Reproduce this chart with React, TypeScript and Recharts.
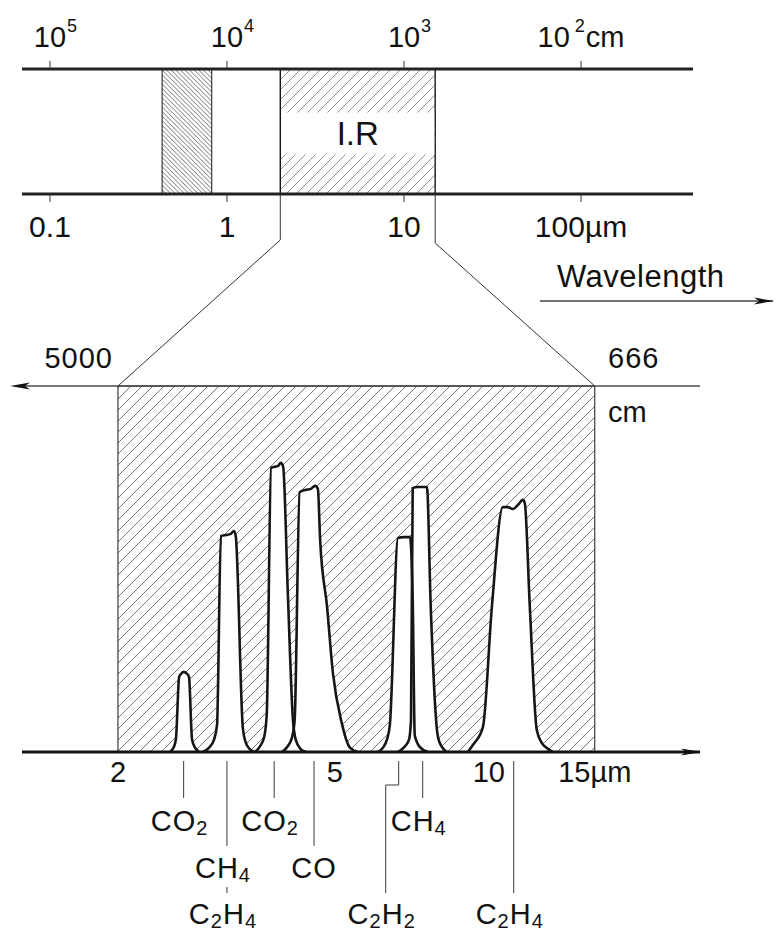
import React from 'react';
import { ComposedChart, XAxis, YAxis, Area, Line, Scatter, ReferenceArea } from 'recharts';

const FONT = '"Liberation Sans", Arial, Helvetica, sans-serif';
const INK = '#161616';

// ---------------- data ----------------
// top band: wavelength (µm) below, wavenumber (cm-1) above
const BAND_LAM_TICKS = [0.1, 1, 10, 100];
const BAND_LAM_LABELS = ['0.1', '1', '10', '100µm'];
const BAND_WN_TICKS = [100000, 10000, 1000, 100];
const BAND_WN_UNIT = 'cm';
const VISIBLE_RANGE = [0.43, 0.82];
const IR_RANGE = [2, 15];
const IR_LABEL = 'I.R';
const AXIS_TITLE = 'Wavelength';

// lower spectrum
const SPEC_LAM_TICKS = [2, 5, 10, 15];
const SPEC_LAM_LABELS = ['2', '5', '10', '15µm'];
const SPEC_WN_TICKS = [5000, 666];
const SPEC_WN_UNIT = 'cm';

// absorption bands: [wavelength µm, relative absorbance]
const PEAK_CO2_27 = [[2.49, 0], [2.53, 0.012], [2.555, 0.035], [2.59, 0.205], [2.61, 0.213], [2.64, 0.219], [2.68, 0.213], [2.70, 0.205], [2.735, 0.035], [2.77, 0.012], [2.82, 0]];
const PEAK_CH4_33 = [[2.86, 0], [2.94, 0.012], [3.0, 0.033], [3.04, 0.074], [3.09, 0.59], [3.16, 0.593], [3.22, 0.596], [3.265, 0.604], [3.29, 0.59], [3.39, 0.066], [3.43, 0.027], [3.49, 0.008], [3.57, 0]];
const PEAK_CO2_43 = [[3.57, 0], [3.64, 0.014], [3.71, 0.041], [3.75, 0.101], [3.82, 0.776], [3.87, 0.779], [3.93, 0.781], [3.98, 0.79], [4.02, 0.779], [4.1, 0.434], [4.19, 0.087], [4.24, 0.033], [4.33, 0.008], [4.43, 0]];
const PEAK_CO_46 = [[4.0, 0], [4.08, 0.012], [4.17, 0.038], [4.22, 0.087], [4.31, 0.71], [4.41, 0.716], [4.52, 0.719], [4.6, 0.727], [4.655, 0.719], [4.7, 0.579], [4.84, 0.396], [4.96, 0.216], [5.15, 0.079], [5.33, 0.012], [5.51, 0]];
const PEAK_C2H2 = [[6.0, 0], [6.13, 0.012], [6.23, 0.033], [6.31, 0.074], [6.53, 0.585], [6.69, 0.587], [6.87, 0.587], [6.95, 0.415], [7.01, 0.046], [7.16, 0.014], [7.41, 0]];
const PEAK_CH4_77 = [[6.53, 0], [6.69, 0.012], [6.84, 0.033], [6.9, 0.087], [6.95, 0.721], [7.1, 0.724], [7.25, 0.724], [7.38, 0.724], [7.5, 0.396], [7.7, 0.06], [7.79, 0.025], [8.03, 0]];
const PEAK_C2H4_105 = [[8.77, 0], [8.96, 0.019], [9.35, 0.068], [9.71, 0.396], [10.17, 0.669], [10.39, 0.669], [10.61, 0.664], [10.84, 0.675], [11.07, 0.689], [11.16, 0.68], [11.4, 0.396], [11.74, 0.06], [11.99, 0.025], [12.25, 0.011], [12.56, 0]];

// molecule annotations (row 1..3 below the axis)
const MOLECULES = [
  { name: 'CO_2', lam: 2.64, row: 1 },
  { name: 'CH_4', lam: 3.17, row: 2 },
  { name: 'C_2H_4', lam: 3.17, row: 3, shared: true },
  { name: 'CO_2', lam: 3.87, row: 1 },
  { name: 'CO', lam: 4.58, row: 2 },
  { name: 'C_2H_2', lam: 6.55, labelLam: 6.2, row: 3 },
  { name: 'CH_4', lam: 7.25, row: 1 },
  { name: 'C_2H_4', lam: 10.65, row: 3 },
];

// ---------------- layout ----------------
const W = 776;
const H = 932;
const BAND = { left: 22, right: 693, top: 69, bottom: 194 };
const SPEC = { left: 22, right: 700, top: 386, bottom: 752 };
const BAND_LAM_DOMAIN: [number, number] = [0.0695, 429];
const BAND_WN_DOMAIN: [number, number] = [1e4 / BAND_LAM_DOMAIN[1], 1e4 / BAND_LAM_DOMAIN[0]];
const SPEC_LAM_DOMAIN: [number, number] = [1.3333, 23.4];
const SPEC_WN_DOMAIN: [number, number] = [1e4 / SPEC_LAM_DOMAIN[1], 1e4 / SPEC_LAM_DOMAIN[0]];
const BAND_H = 330;
const LAM_LABEL_NUDGE: Record<string, number> = { '10': -10 };

const logPos = (v: number, dom: [number, number], x0: number, x1: number) =>
  x0 + ((Math.log10(v) - Math.log10(dom[0])) / (Math.log10(dom[1]) - Math.log10(dom[0]))) * (x1 - x0);
const bandX = (lam: number) => logPos(lam, BAND_LAM_DOMAIN, BAND.left, BAND.right);
const specX = (lam: number) => logPos(lam, SPEC_LAM_DOMAIN, SPEC.left, SPEC.right);
const SPEC_PX_PER_DECADE = (SPEC.right - SPEC.left) / Math.log10(SPEC_LAM_DOMAIN[1] / SPEC_LAM_DOMAIN[0]);

const toPts = (arr: number[][]) => arr.map(([lam, a]) => ({ lam, a }));
// draw order: CH4 7.7 before C2H2 so outlines interleave like the original
const PEAKS = [PEAK_CO2_27, PEAK_CH4_33, PEAK_CO2_43, PEAK_CO_46, PEAK_CH4_77, PEAK_C2H2, PEAK_C2H4_105].map(toPts);

// rectangular regions built from the ranges (outline: up, across, down)
const rect = (key: string, lo: number, hi: number, yKey: string) => [
  { [key]: lo, [yKey]: 0 }, { [key]: lo, [yKey]: 1 }, { [key]: hi, [yKey]: 1 }, { [key]: hi, [yKey]: 0 },
];
const VISIBLE_RECT = rect('lam', VISIBLE_RANGE[0], VISIBLE_RANGE[1], 'y');
const IR_RECT_WN = rect('wn', 1e4 / IR_RANGE[0], 1e4 / IR_RANGE[1], 'y');
const SPEC_RECT_WN = rect('wn', 1e4 / IR_RANGE[0], 1e4 / IR_RANGE[1], 'a');

const textStyle = { fontFamily: FONT, fill: '#111' } as const;

// ---------------- ticks & labels ----------------
const BandWnTick = (props: any) => {
  const { x, y, payload } = props;
  const v = payload.value;
  const exp = String(Math.round(Math.log10(v)));
  const base = y - 14;
  if (v === BAND_WN_TICKS[BAND_WN_TICKS.length - 1]) {
    return (
      <text x={x} y={base} textAnchor="middle" fontSize={29} {...textStyle}>
        10
        <tspan dx={5} dy={-15} fontSize={18}>{exp}</tspan>
        <tspan dx={1} dy={15} fontSize={29}>{BAND_WN_UNIT}</tspan>
      </text>
    );
  }
  return (
    <g>
      <text x={x} y={base} textAnchor="middle" fontSize={29} {...textStyle}>10</text>
      <text x={x + 17} y={base - 15} textAnchor="start" fontSize={18} {...textStyle}>{exp}</text>
    </g>
  );
};

const BandLamTick = (props: any) => {
  const { x, y, payload } = props;
  const label = BAND_LAM_LABELS[BAND_LAM_TICKS.indexOf(payload.value)];
  return (
    <text x={x} y={y + 35} textAnchor="middle" fontSize={30} {...textStyle}>{label}</text>
  );
};

const SpecWnTick = (props: any) => {
  const { x, y, payload } = props;
  const first = payload.value === SPEC_WN_TICKS[0];
  return (
    <g>
      <text x={first ? x - 5 : x + 13} y={y - 18} textAnchor={first ? 'end' : 'start'} fontSize={29} letterSpacing={1} {...textStyle}>
        {payload.value}
      </text>
      {!first && (
        <text x={x + 13} y={y + 36} textAnchor="start" fontSize={29} {...textStyle}>{SPEC_WN_UNIT}</text>
      )}
    </g>
  );
};

const SpecLamTick = (props: any) => {
  const { x, y, payload } = props;
  const label = SPEC_LAM_LABELS[SPEC_LAM_TICKS.indexOf(payload.value)];
  const nudge = LAM_LABEL_NUDGE[label] || 0;
  return (
    <text x={x + nudge} y={y + 30} textAnchor="middle" fontSize={29} {...textStyle}>{label}</text>
  );
};

const IRLabel = (props: any) => {
  const vb = props.viewBox || {};
  const { x, y, width, height } = vb;
  if (x == null) return null;
  const cx = x + width / 2;
  const cy = y + height / 2;
  return (
    <g>
      <rect x={x + 1} y={cy - 19} width={width - 2} height={42} fill="#fff" />
      <text x={cx} y={cy + 13} textAnchor="middle" fontSize={33} {...textStyle}>{IR_LABEL}</text>
    </g>
  );
};

const Formula = ({ x, y, text }: { x: number; y: number; text: string }) => {
  const parts: { t: string; sub: boolean }[] = [];
  for (let i = 0; i < text.length; i++) {
    if (text[i] === '_') {
      parts.push({ t: text[i + 1], sub: true });
      i++;
    } else if (parts.length && !parts[parts.length - 1].sub) {
      parts[parts.length - 1].t += text[i];
    } else {
      parts.push({ t: text[i], sub: false });
    }
  }
  let shifted = false;
  return (
    <text x={x} y={y} textAnchor="middle" fontSize={29} letterSpacing={1} {...textStyle}>
      {parts.map((p, k) => {
        let dy = 0;
        if (p.sub && !shifted) { dy = 4; shifted = true; }
        else if (!p.sub && shifted) { dy = -4; shifted = false; }
        return (
          <tspan key={k} dy={dy} fontSize={p.sub ? 20 : 29}>{p.t}</tspan>
        );
      })}
    </text>
  );
};

const LEAD = { start: 9, jog: 33, stubStart: 135, rowEnd: [0, 46, 94, 141], base: [0, 79, 126, 172] };

const MoleculeMark = (props: any) => {
  const { cx, cy, payload } = props;
  if (cx == null || cy == null) return null;
  const m = payload;
  const top = cy + (m.shared ? LEAD.stubStart : LEAD.start);
  const end = cy + LEAD.rowEnd[m.row];
  let lx = cx;
  let d = `M${cx},${top} V${end}`;
  if (m.labelLam) {
    lx = cx + SPEC_PX_PER_DECADE * Math.log10(m.labelLam / m.lam);
    d = `M${cx},${top} V${cy + LEAD.jog} H${lx} V${end}`;
  }
  const dx = m.name.includes('_') ? -4 : 0;
  return (
    <g>
      <path d={d} stroke="#3a3a3a" strokeWidth={1} fill="none" />
      <Formula x={lx + dx} y={cy + LEAD.base[m.row]} text={m.name} />
    </g>
  );
};

// ---------------- app ----------------
export default function App() {
  return (
    <div style={{ position: 'absolute', left: 0, top: 0, width: W, height: H, background: '#fff' }}>
      <svg width={0} height={0} style={{ position: 'absolute' }}>
        <defs>
          <pattern id="hatchVis" patternUnits="userSpaceOnUse" width={4.6} height={4.6}>
            <path d="M0,0 L4.6,4.6 M-1,3.6 L1,5.6 M3.6,-1 L5.6,1" stroke="#333" strokeWidth={0.7} />
          </pattern>
          <pattern id="hatchIR" patternUnits="userSpaceOnUse" width={10} height={10}>
            <path d="M0,10 L10,0 M-2,2 L2,-2 M8,12 L12,8" stroke="#7e7e7e" strokeWidth={0.85} />
          </pattern>
          <pattern id="hatchSpec" patternUnits="userSpaceOnUse" width={11} height={11}>
            <path d="M0,11 L11,0 M-2,2 L2,-2 M9,13 L13,9" stroke="#767676" strokeWidth={1} />
          </pattern>
          <marker id="arrowR" viewBox="0 0 20 8" refX={19} refY={4} markerWidth={20} markerHeight={8} markerUnits="userSpaceOnUse" orient="auto">
            <path d="M0,0.5 L20,4 L0,7.5 L5,4 Z" fill="#111" />
          </marker>
          <marker id="arrowL" viewBox="0 0 20 8" refX={8} refY={4} markerWidth={20} markerHeight={8} markerUnits="userSpaceOnUse" orient="auto-start-reverse">
            <path d="M0,0.5 L20,4 L0,7.5 L5,4 Z" fill="#111" />
          </marker>
        </defs>
      </svg>

      {/* top band */}
      <div style={{ position: 'absolute', left: 0, top: 0 }}>
        <ComposedChart
          width={W}
          height={BAND_H}
          margin={{ top: 0, right: W - BAND.right, bottom: BAND_H - BAND.bottom - 60, left: BAND.left }}
        >
          <Area data={VISIBLE_RECT} dataKey="y" xAxisId="lam" yAxisId="y" type="linear" baseValue={0}
            fill="url(#hatchVis)" fillOpacity={1} stroke={INK} strokeWidth={1} dot={false} activeDot={false}
            isAnimationActive={false} />
          <Area data={IR_RECT_WN} dataKey="y" xAxisId="wn" yAxisId="y" type="linear" baseValue={0}
            fill="url(#hatchIR)" fillOpacity={1} stroke={INK} strokeWidth={1.4} dot={false} activeDot={false}
            isAnimationActive={false} />
          <ReferenceArea xAxisId="lam" yAxisId="y" x1={IR_RANGE[0]} x2={IR_RANGE[1]} y1={0} y2={1}
            fill="none" stroke="none" label={(p: any) => <IRLabel {...p} />} />
          <XAxis xAxisId="wn" dataKey="wn" orientation="top" type="number" scale="log" reversed allowDataOverflow
            domain={BAND_WN_DOMAIN} ticks={BAND_WN_TICKS} interval={0} height={BAND.top}
            axisLine={{ stroke: '#222', strokeWidth: 3.2 }} tickLine={{ stroke: '#333', strokeWidth: 1 }}
            tickSize={8} tickMargin={0} tick={(p: any) => <BandWnTick {...p} />} />
          <XAxis xAxisId="lam" dataKey="lam" orientation="bottom" type="number" scale="log" allowDataOverflow
            domain={BAND_LAM_DOMAIN} ticks={BAND_LAM_TICKS} interval={0} height={60}
            axisLine={{ stroke: '#222', strokeWidth: 3.2 }} tickLine={{ stroke: '#333', strokeWidth: 1 }}
            tickSize={8} tickMargin={0} tick={(p: any) => <BandLamTick {...p} />} />
          <YAxis yAxisId="y" hide type="number" domain={[0, 1]} />
        </ComposedChart>
      </div>

      {/* spectrum */}
      <div style={{ position: 'absolute', left: 0, top: 0 }}>
        <ComposedChart
          width={W}
          height={H}
          margin={{ top: SPEC.top - 40, right: W - SPEC.right, bottom: H - SPEC.bottom - 60, left: SPEC.left }}
        >
          <Area data={SPEC_RECT_WN} dataKey="a" xAxisId="wn" yAxisId="a" type="linear" baseValue={0}
            fill="url(#hatchSpec)" fillOpacity={1} stroke={INK} strokeWidth={1} dot={false} activeDot={false}
            isAnimationActive={false} />
          {PEAKS.map((p, i) => (
            <Area key={'f' + i} data={p} dataKey="a" xAxisId="lam" yAxisId="a" type="monotone"
              stroke="none" fill="#fff" fillOpacity={1} baseValue={0} dot={false} activeDot={false}
              isAnimationActive={false} />
          ))}
          {PEAKS.map((p, i) => (
            <Line key={'l' + i} data={p} dataKey="a" xAxisId="lam" yAxisId="a" type="monotone"
              stroke={INK} strokeWidth={2.6} dot={false} activeDot={false} isAnimationActive={false} />
          ))}
          <Scatter data={MOLECULES.map((m) => ({ ...m, a: 0 }))} xAxisId="lam" yAxisId="a" dataKey="a"
            isAnimationActive={false} shape={(p: any) => <MoleculeMark {...p} />} />
          <XAxis xAxisId="wn" dataKey="wn" orientation="top" type="number" scale="log" reversed allowDataOverflow
            domain={SPEC_WN_DOMAIN} ticks={SPEC_WN_TICKS} interval={0} height={40}
            axisLine={{ stroke: '#4a4a4a', strokeWidth: 1.6, markerStart: 'url(#arrowL)' }} tickLine={false}
            tickSize={0} tickMargin={0} tick={(p: any) => <SpecWnTick {...p} />} />
          <XAxis xAxisId="lam" dataKey="lam" orientation="bottom" type="number" scale="log"
            domain={SPEC_LAM_DOMAIN} ticks={SPEC_LAM_TICKS} interval={0} height={60}
            axisLine={{ stroke: '#111', strokeWidth: 3, markerEnd: 'url(#arrowR)' }} tickLine={false}
            tickSize={0} tickMargin={0} tick={(p: any) => <SpecLamTick {...p} />} />
          <YAxis yAxisId="a" dataKey="a" hide type="number" domain={[0, 1]} />
        </ComposedChart>
      </div>

      {/* funnel connecting the IR band to the expanded spectrum, and axis title */}
      <svg width={W} height={H} style={{ position: 'absolute', left: 0, top: 0, pointerEvents: 'none' }}>
        <path
          d={`M${bandX(IR_RANGE[0])},${BAND.bottom} V${BAND.bottom + 46} L${specX(IR_RANGE[0])},${SPEC.top}`}
          stroke="#333" strokeWidth={1} fill="none" />
        <path
          d={`M${bandX(IR_RANGE[1])},${BAND.bottom} V${BAND.bottom + 49} L${specX(IR_RANGE[1])},${SPEC.top}`}
          stroke="#333" strokeWidth={1} fill="none" />
        <text x={557} y={287} fontSize={31} letterSpacing={0.5} {...textStyle}>{AXIS_TITLE}</text>
        <line x1={540} y1={301} x2={773} y2={301} stroke="#444" strokeWidth={1.5} markerEnd="url(#arrowR)" />
      </svg>
    </div>
  );
}
